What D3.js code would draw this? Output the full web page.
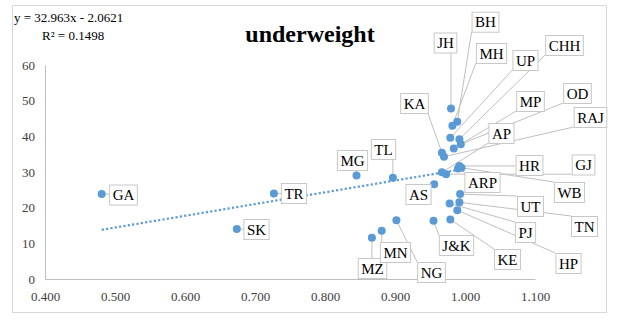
<!DOCTYPE html>
<html>
<head>
<meta charset="utf-8">
<script src="https://cdn.jsdelivr.net/npm/d3@7"></script>
<style>
  html, body { margin: 0; padding: 0; background: #fff; }
  svg { display: block; }
</style>
</head>
<body>
<svg id="chart" width="618" height="323"></svg>
<script>
// ---- data ----
const states = ["GA","TR","SK","MG","TL","MZ","MN","NG","AS","J&K","KE","HP","PJ","TN","UT","WB","ARP","HR","GJ","RAJ","AP","OD","MP","CHH","UP","MH","BH","JH","KA"];
const xValues = [0.481,0.727,0.674,0.845,0.897,0.867,0.881,0.902,0.956,0.955,0.979,0.989,0.978,0.992,0.993,0.995,0.990,0.992,0.973,0.970,0.967,0.994,0.984,0.992,0.979,0.982,0.989,0.980,0.967];
const yValues = [23.8,24.0,14.0,29.0,28.4,11.6,13.5,16.5,26.6,16.3,16.7,19.3,21.2,21.5,23.8,31.2,31.0,31.7,29.4,34.3,29.9,37.8,36.6,39.2,39.6,43.0,44.1,47.8,35.4];
const xTicks = [0.4,0.5,0.6,0.7,0.8,0.9,1.0,1.1];
const yTicks = [0,10,20,30,40,50,60];
const trendSlope = 32.963;
const trendIntercept = -2.0621;
const rSquared = 0.1498;
const chartTitle = "underweight";

// ---- layout (label box centres, pixels) ----
const labelPos = [[123,194.5],[293.5,193],[256,229],[352,160],[383,149],[372,268],[395,252],[431,272],[418,194],[456,245],[507,259],[568,263],[525,232],[584,226],[530,206],[569,192],[482,182],[529,165],[583,164.5],[590,117],[501,133],[577,93],[530,101],[564,45],[525,60],[491,53],[485,21.7],[445,42.5],[414,103]];

const blue = "#5b9bd5";
const font = '"Liberation Serif"';
const svg = d3.select("#chart");

svg.append("rect").attr("x",12.5).attr("y",5.5).attr("width",594).attr("height",307)
  .attr("fill","#fff").attr("stroke","#d9d9d9");

const x = d3.scaleLinear().domain([0.4,1.1]).range([45,535]);
const y = d3.scaleLinear().domain([0,60]).range([279,65]);

// axes
const gx = svg.append("g").attr("transform","translate(0,279)")
  .call(d3.axisBottom(x).tickValues(xTicks).tickFormat(d3.format(".3f")).tickSize(0).tickPadding(13).tickSizeOuter(0));
const gy = svg.append("g").attr("transform","translate(45,0)")
  .call(d3.axisLeft(y).tickValues(yTicks).tickSize(0).tickPadding(10).tickSizeOuter(0));
[gx,gy].forEach(g => {
  g.attr("font-family", null);
  g.select(".domain").attr("stroke","#bfbfbf").attr("stroke-width",1);
  g.selectAll("text").style("font-family",font).attr("font-size",13).attr("fill","#404040");
});

// title + equation
svg.append("text").attr("x",310).attr("y",42).attr("text-anchor","middle")
  .style("font-family",font).attr("font-size",24).attr("font-weight","bold").attr("fill","#000").text(chartTitle);
svg.append("text").attr("x",14).attr("y",22).style("font-family",font).attr("font-size",13).attr("fill","#000")
  .text(`y = ${trendSlope}x - ${Math.abs(trendIntercept)}`);
svg.append("text").attr("x",42).attr("y",40).style("font-family",font).attr("font-size",13).attr("fill","#000")
  .text(`R² = ${rSquared}`);

// trendline
const xmin = d3.min(xValues), xmax = d3.max(xValues);
svg.append("line")
  .attr("x1",x(xmin)).attr("y1",y(trendSlope*xmin+trendIntercept))
  .attr("x2",x(xmax)).attr("y2",y(trendSlope*xmax+trendIntercept))
  .attr("stroke",blue).attr("stroke-width",2.2).attr("stroke-dasharray","2.2,2.2");

const pts = states.map((s,i)=>({s, px:x(xValues[i]), py:y(yValues[i]), lx:labelPos[i][0], ly:labelPos[i][1]}));

// measure labels
const meas = svg.append("text").style("font-family",font).attr("font-size",15).attr("visibility","hidden");
pts.forEach(p=>{ meas.text(p.s); p.w = meas.node().getComputedTextLength()+6; p.h = 20; });
meas.remove();

// leader lines
const leaders = svg.append("g");
pts.forEach(p=>{
  const x0=p.lx-p.w/2, x1=p.lx+p.w/2, y0=p.ly-p.h/2, y1=p.ly+p.h/2;
  const cx=Math.max(x0,Math.min(x1,p.px)), cy=Math.max(y0,Math.min(y1,p.py));
  leaders.append("line").attr("x1",p.px).attr("y1",p.py).attr("x2",cx).attr("y2",cy)
    .attr("stroke","#bfbfbf").attr("stroke-width",1);
});

// points
svg.append("g").selectAll("circle").data(pts).join("circle")
  .attr("cx",d=>d.px).attr("cy",d=>d.py).attr("r",4).attr("fill",blue);

// label boxes
const lg = svg.append("g").selectAll("g").data(pts).join("g");
lg.append("rect").attr("x",d=>d.lx-d.w/2+0.5).attr("y",d=>d.ly-d.h/2+0.5).attr("width",d=>d.w).attr("height",d=>d.h)
  .attr("fill","#fff").attr("stroke","#c8c8c8");
lg.append("text").attr("x",d=>d.lx+0.5).attr("y",d=>d.ly+5.5).attr("text-anchor","middle")
  .style("font-family",font).attr("font-size",15).attr("fill","#000").text(d=>d.s);
</script>
</body>
</html>
